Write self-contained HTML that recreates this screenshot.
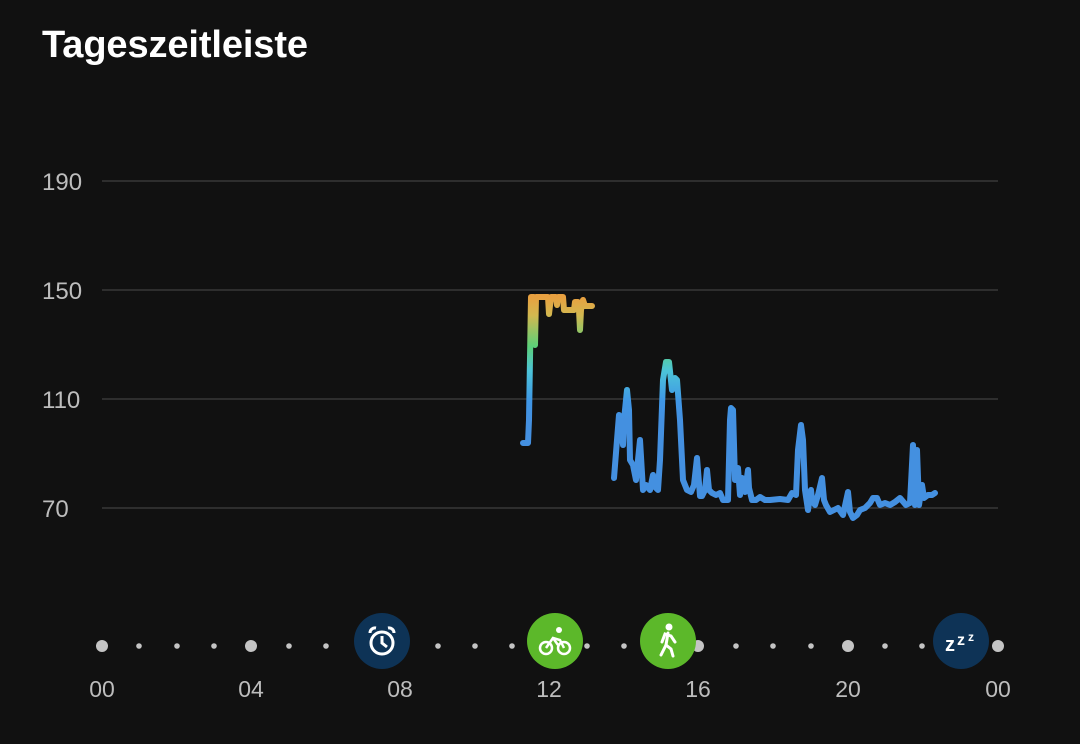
<!DOCTYPE html><html><head><meta charset="utf-8"><style>
body{margin:0;background:#111111;width:1080px;height:744px;overflow:hidden;font-family:"Liberation Sans",sans-serif}
</style></head><body>
<svg width="1080" height="744" xmlns="http://www.w3.org/2000/svg" style="position:absolute;left:0;top:0">
<rect width="1080" height="744" fill="#111"/>
<text x="42" y="57" fill="#fff" font-size="38" font-weight="bold" font-family="Liberation Sans, sans-serif" textLength="266">Tageszeitleiste</text>
<g stroke="#2e2e2e" stroke-width="2"><line x1="102" y1="181" x2="998" y2="181"/><line x1="102" y1="290" x2="998" y2="290"/><line x1="102" y1="399" x2="998" y2="399"/><line x1="102" y1="508" x2="998" y2="508"/></g>
<g fill="#bdbdbd" font-size="24" font-family="Liberation Sans, sans-serif">
<text x="42" y="190">190</text><text x="42" y="299">150</text><text x="42" y="408">110</text><text x="42" y="517">70</text>
</g>
<defs><linearGradient id="g" gradientUnits="userSpaceOnUse" x1="0" y1="297" x2="0" y2="420">
<stop offset="0" stop-color="#e8a040"/><stop offset="0.15" stop-color="#d2b850"/><stop offset="0.4" stop-color="#5cd078"/><stop offset="0.6" stop-color="#4cc4d8"/><stop offset="0.85" stop-color="#3f96e6"/><stop offset="1" stop-color="#4490e0"/></linearGradient></defs>
<g fill="none" stroke="url(#g)" stroke-width="6" stroke-linejoin="round" stroke-linecap="round">
<polyline points="523,443 528,443 529,420 531,297 534,297 535,345 536,297 548,297 549,314 551,297 556,297 557,305 558,297 563,297 564,310 574,310 575,302 578,302 579,310 580,330 581,310 583,300 585,306 592,306"/>
<polyline points="614,478 617,440 619,415 621,425 623,445 624,420 627,390 629,410 630,460 633,465 636,480 640,440 643,490 646,485 650,490 653,475 655,487 658,490 660,460 663,380 666,362 669,362 672,390 675,378 677,380 680,420 683,480 687,490 691,492 694,485 697,458 700,496 702,496 705,490 707,470 709,490 712,493 716,495 720,493 723,500 726,500 728,500 730,420 731,408 733,410 735,480 738,468 740,495 742,478 745,492 748,470 749,488 752,500 756,500 760,497 765,500 770,500 780,499 788,500 792,493 796,495 798,450 801,425 803,440 805,490 808,510 811,490 812,500 815,505 818,495 822,478 824,500 826,505 830,512 834,510 838,508 843,515 848,492 850,512 853,518 857,515 860,510 865,508 870,503 873,498 877,498 880,505 885,503 890,505 895,502 900,498 906,505 910,503 913,445 915,505 917,450 919,505 922,485 924,498 928,495 932,495 935,493"/>
</g>
<g fill="#c4c4c4">
<circle cx="102" cy="646" r="6"/><circle cx="251" cy="646" r="6"/><circle cx="400" cy="646" r="6"/><circle cx="549" cy="646" r="6"/><circle cx="698" cy="646" r="6"/><circle cx="848" cy="646" r="6"/><circle cx="998" cy="646" r="6"/>
<circle cx="139" cy="646" r="2.8"/><circle cx="177" cy="646" r="2.8"/><circle cx="214" cy="646" r="2.8"/><circle cx="289" cy="646" r="2.8"/><circle cx="326" cy="646" r="2.8"/><circle cx="363" cy="646" r="2.8"/><circle cx="438" cy="646" r="2.8"/><circle cx="475" cy="646" r="2.8"/><circle cx="512" cy="646" r="2.8"/><circle cx="587" cy="646" r="2.8"/><circle cx="624" cy="646" r="2.8"/><circle cx="661" cy="646" r="2.8"/><circle cx="736" cy="646" r="2.8"/><circle cx="773" cy="646" r="2.8"/><circle cx="811" cy="646" r="2.8"/><circle cx="885" cy="646" r="2.8"/><circle cx="922" cy="646" r="2.8"/><circle cx="960" cy="646" r="2.8"/>
</g>
<circle cx="382" cy="641" r="28" fill="#0e3356"/>
<g stroke="#fff" stroke-width="3" fill="none"><circle cx="382" cy="643" r="11"/><polyline points="382,636 382,643 387,647"/><path d="M370 633 a5 5 0 0 1 6 -5"/><path d="M394 633 a5 5 0 0 0 -6 -5"/></g>
<circle cx="555" cy="641" r="28" fill="#5cb82a"/>
<g stroke="#fff" stroke-width="2.5" fill="none"><circle cx="546" cy="648" r="6"/><circle cx="564" cy="648" r="6"/><polyline points="546,648 553,638 560,640 564,648"/><polyline points="553,638 558,645"/></g><circle cx="559" cy="630" r="3" fill="#fff"/>
<circle cx="668" cy="641" r="28" fill="#5cb82a"/>
<circle cx="669" cy="627" r="3.5" fill="#fff"/>
<g stroke="#fff" stroke-width="3" fill="none" stroke-linecap="round"><polyline points="668,633 666,645 661,655"/><polyline points="666,645 671,649 673,656"/><polyline points="662,642 665,634 671,636 675,642"/></g>
<circle cx="961" cy="641" r="28" fill="#0e3356"/>
<text x="945" y="651" fill="#fff" font-size="20" font-weight="bold" font-family="Liberation Sans, sans-serif">z</text><text x="957" y="645" fill="#fff" font-size="16" font-weight="bold" font-family="Liberation Sans, sans-serif">z</text><text x="968" y="641" fill="#fff" font-size="12" font-weight="bold" font-family="Liberation Sans, sans-serif">z</text>
<g fill="#bdbdbd" font-size="23" text-anchor="middle" font-family="Liberation Sans, sans-serif">
<text x="102" y="697">00</text><text x="251" y="697">04</text><text x="400" y="697">08</text><text x="549" y="697">12</text><text x="698" y="697">16</text><text x="848" y="697">20</text><text x="998" y="697">00</text>
</g>
</svg>
</body></html>
